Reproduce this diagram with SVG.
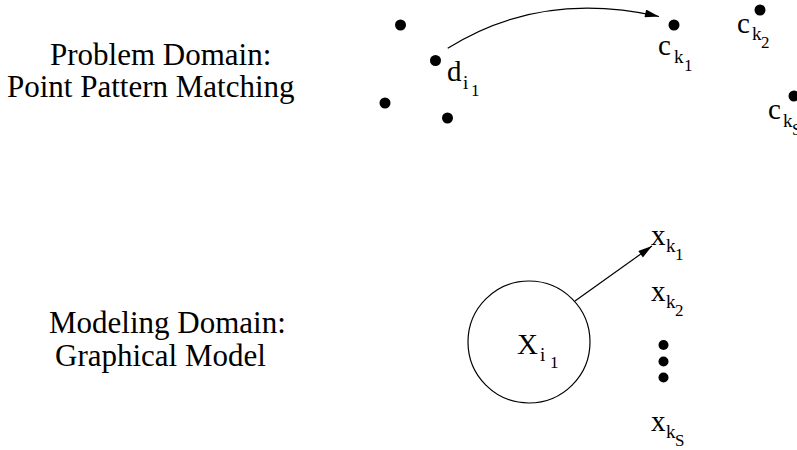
<svg xmlns="http://www.w3.org/2000/svg" width="797" height="450" viewBox="0 0 797 450">
<defs>
<style>
text{font-family:"Liberation Serif","Times New Roman",serif;fill:#000}
.lbl{font-size:31px}
.m{font-size:29px}
.s{font-size:19px}
.ss{font-size:17px}
.dot{fill:#000}
.ln{fill:none;stroke:#000;stroke-width:1.2}
</style>
<marker id="ah" viewBox="0 0 14 8" refX="14" refY="4" markerWidth="15" markerHeight="8" markerUnits="userSpaceOnUse" orient="auto">
<path d="M0,0 L14,4 L0,8 z" fill="#000"/>
</marker>
</defs>
<rect width="797" height="450" fill="#fff"/>
<g id="problem-label">
<text class="lbl" x="50" y="65">Problem Domain:</text>
<text class="lbl" x="7" y="97">Point Pattern Matching</text>
</g>
<g id="modeling-label">
<text class="lbl" x="49" y="333">Modeling Domain:</text>
<text class="lbl" x="55" y="366">Graphical Model</text>
</g>
<g id="data-points">
<circle class="dot" cx="400.5" cy="25" r="5.5"/>
<circle class="dot" cx="385" cy="103" r="5.5"/>
<circle class="dot" cx="447.5" cy="118" r="5.5"/>
</g>
<g id="d_i1">
<circle class="dot" cx="435.5" cy="60.5" r="5.5"/>
<text class="m" x="447" y="81">d</text>
<text class="s" x="463" y="89">i</text>
<text class="ss" x="471" y="96">1</text>
</g>
<g id="c_k1">
<circle class="dot" cx="674" cy="25" r="5.5"/>
<text class="m" x="658" y="55">c</text>
<text class="s" x="674" y="63">k</text>
<text class="ss" x="684" y="71">1</text>
</g>
<g id="c_k2">
<circle class="dot" cx="760" cy="10" r="5.5"/>
<text class="m" x="737" y="33">c</text>
<text class="s" x="752" y="40">k</text>
<text class="ss" x="761" y="48">2</text>
</g>
<g id="c_kS">
<circle class="dot" cx="794" cy="96" r="5.5"/>
<text class="m" x="768" y="119">c</text>
<text class="s" x="783" y="127">k</text>
<text class="ss" x="792" y="135">S</text>
</g>
<g id="X_i1">
<circle cx="529" cy="342" r="61" fill="none" stroke="#000" stroke-width="1.2"/>
<text class="m" x="517" y="354">X</text>
<text class="s" x="540" y="361">i</text>
<text class="ss" x="550" y="368">1</text>
</g>
<g id="x_k1">
<text class="m" x="651" y="245">x</text>
<text class="s" x="666" y="252">k</text>
<text class="ss" x="675" y="260">1</text>
</g>
<g id="x_k2">
<text class="m" x="651" y="301">x</text>
<text class="s" x="666" y="308">k</text>
<text class="ss" x="675" y="316">2</text>
</g>
<g id="ellipsis">
<circle class="dot" cx="663.5" cy="345" r="5"/>
<circle class="dot" cx="663.5" cy="361.5" r="5"/>
<circle class="dot" cx="663.5" cy="377.5" r="5"/>
</g>
<g id="x_kS">
<text class="m" x="651" y="431">x</text>
<text class="s" x="666" y="438">k</text>
<text class="ss" x="675" y="446">S</text>
</g>
<g id="connectors">
<path class="ln" d="M447.7,48.3 Q540,-10 659,16.5" marker-end="url(#ah)"/>
<path class="ln" d="M575,301 L652,246" marker-end="url(#ah)"/>
</g>
</svg>
